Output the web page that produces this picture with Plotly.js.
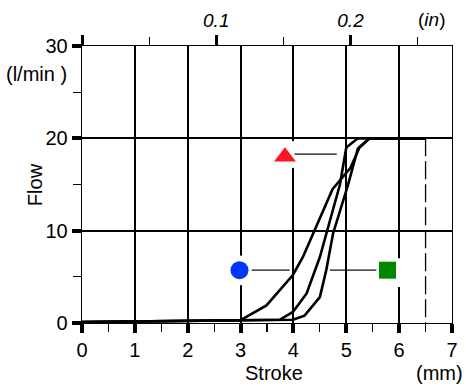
<!DOCTYPE html>
<html><head><meta charset="utf-8">
<script src="https://cdn.plot.ly/plotly-3.0.1.min.js"></script>
<style>html,body{margin:0;padding:0;background:#fff}</style>
</head><body><div id="chart" style="width:466px;height:387px"></div>
<script>
// Tick values / labels
const strokeTicks = [0, 1, 2, 3, 4, 5, 6, 7];
const flowTicks = [0, 10, 20, 30];
const inchTicks = [0, 0.1, 0.2];
const inchLabels = ['', '0.1', '0.2'];
const inchMinor = [0.05, 0.15, 0.25];

// Curve: circle
const strokeCircle = [0, 1, 2, 3.0, 3.49, 3.74, 3.99, 4.18, 4.40, 4.74, 5.08, 5.25, 5.44, 6.5];
const flowCircle   = [0.1, 0.15, 0.2, 0.3, 1.9, 3.55, 5.2, 7.15, 10.0, 14.5, 16.8, 19.0, 20, 20];
// Curve: triangle
const strokeTriangle = [0, 1, 2, 3, 3.74, 3.99, 4.25, 4.50, 4.62, 4.88, 5.0, 5.22, 6.5];
const flowTriangle   = [0.1, 0.15, 0.2, 0.3, 0.35, 1.2, 3.2, 7.15, 9.7, 15.0, 19.0, 20, 20];
// Curve: square
const strokeSquare = [0, 1, 2, 3, 3.99, 4.21, 4.50, 4.62, 4.75, 5.03, 5.22, 5.44, 6.5];
const flowSquare   = [0.1, 0.15, 0.2, 0.3, 0.35, 0.8, 2.8, 5.7, 9.7, 14.9, 18.9, 20, 20];
// Dashed end-of-stroke line
const endStroke = [6.5, 6.5];
const endFlow = [20, 0];
// Key markers
const keyNames = ['circle', 'triangle-up', 'square'];
const keyStroke = [2.98, 3.84, 5.78];
const keyFlow = [5.72, 18.0, 5.72];
const keyColors = ['rgb(0,55,255)', 'rgb(255,20,35)', 'rgb(0,135,0)'];

const font = 'Liberation Sans, Arial, sans-serif';
const curveLine = {color: '#000', width: 2.6};

const traces = [
  {x: strokeCircle, y: flowCircle, mode: 'lines', line: curveLine, hoverinfo: 'skip'},
  {x: strokeTriangle, y: flowTriangle, mode: 'lines', line: curveLine, hoverinfo: 'skip'},
  {x: strokeSquare, y: flowSquare, mode: 'lines', line: curveLine, hoverinfo: 'skip'},
  {x: endStroke, y: endFlow, mode: 'lines', line: {color: '#000', width: 1.3, dash: '18px,5px'}, hoverinfo: 'skip'},
  {x: keyStroke, y: keyFlow, mode: 'markers', cliponaxis: false,
   marker: {symbol: keyNames, color: keyColors, size: [18, 19, 17], opacity: 1, line: {width: 0}}, hoverinfo: 'skip'},
  // invisible carrier for the inch axis on top
  {x: inchTicks, y: [-50, -50, -50], xaxis: 'x2', yaxis: 'y', mode: 'markers',
   marker: {opacity: 0}, hoverinfo: 'skip'}
];

const lead = (x0, x1, y) => ({type: 'line', xref: 'x', yref: 'y', x0: x0, x1: x1, y0: y, y1: y,
  line: {color: '#111', width: 1.3}, layer: 'above'});
const gap = (x0, x1, y0, y1) => ({type: 'rect', xref: 'x', yref: 'y', x0: x0, x1: x1, y0: y0, y1: y1,
  fillcolor: '#fff', line: {width: 0}, layer: 'between'});

const layout = {
  width: 466, height: 387,
  margin: {l: 82, r: 14, t: 46, b: 64},
  paper_bgcolor: '#fff', plot_bgcolor: '#fff',
  showlegend: false,
  font: {family: font, size: 20, color: '#000'},
  xaxis: {
    range: [0, 7], tickvals: strokeTicks, ticktext: strokeTicks.map(String),
    ticks: 'outside', ticklen: 9, tickwidth: 4, tickcolor: '#000',
    minor: {dtick: 0.5, tick0: 0, ticks: 'outside', ticklen: 8, tickwidth: 1.2, tickcolor: '#000', showgrid: false},
    showgrid: true, gridcolor: '#000', gridwidth: 2,
    showline: true, linecolor: '#000', linewidth: 1.3, mirror: true,
    zeroline: false, tickfont: {family: font, size: 20, color: '#000'}, fixedrange: true
  },
  xaxis2: {
    overlaying: 'x', side: 'top', anchor: 'y', range: [0, 7 / 25.4],
    tickmode: 'array', tickvals: inchTicks, ticktext: inchLabels.map(t => t ? '<i>' + t + '</i>' : ''),
    ticks: 'outside', ticklen: 10, tickwidth: 3, tickcolor: '#000',
    minor: {tickmode: 'array', tickvals: inchMinor, ticks: 'outside', ticklen: 8, tickwidth: 1.2, tickcolor: '#000', showgrid: false},
    showgrid: false, showline: false, zeroline: false,
    tickfont: {family: font, size: 19, color: '#000'}, fixedrange: true
  },
  yaxis: {
    range: [0, 30], tickvals: flowTicks, ticktext: flowTicks.map(String),
    ticks: 'outside', ticklen: 9, tickwidth: 4, tickcolor: '#000',
    minor: {dtick: 5, tick0: 0, ticks: 'outside', ticklen: 8, tickwidth: 1.2, tickcolor: '#000', showgrid: false},
    showgrid: true, gridcolor: '#000', gridwidth: 2,
    showline: true, linecolor: '#000', linewidth: 1.3, mirror: true,
    zeroline: false, tickfont: {family: font, size: 20, color: '#000'}, fixedrange: true
  },
  shapes: [
    gap(3.6, 4.1, 16.8, 19.7),
    gap(2.7, 3.25, 4.1, 7.3),
    gap(5.55, 6.15, 3.9, 7.0),
    lead(3.21, 3.93, 5.72),
    lead(4.02, 4.82, 18.3),
    lead(4.69, 5.57, 5.72)
  ],
  annotations: [
    {text: 'Flow', xref: 'paper', yref: 'paper', x: -0.128, y: 0.5, xanchor: 'center', yanchor: 'middle',
     showarrow: false, textangle: -90, font: {family: font, size: 20}},
    {text: '(l/min )', xref: 'paper', yref: 'paper', x: -0.035, y: 0.9, xanchor: 'right', yanchor: 'middle',
     showarrow: false, font: {family: font, size: 20}},
    {text: 'Stroke', xref: 'paper', yref: 'paper', x: 0.52, y: -0.18, xanchor: 'center', yanchor: 'middle',
     showarrow: false, font: {family: font, size: 20}},
    {text: '(mm)', xref: 'paper', yref: 'paper', x: 1.035, y: -0.18, xanchor: 'right', yanchor: 'middle',
     showarrow: false, font: {family: font, size: 20}},
    {text: '(<i>in</i>)', xref: 'paper', yref: 'paper', x: 0.945, y: 1.095, xanchor: 'center', yanchor: 'middle',
     showarrow: false, font: {family: font, size: 19}}
  ]
};

Plotly.newPlot('chart', traces, layout, {displayModeBar: false, staticPlot: true});
</script>
</body></html>
